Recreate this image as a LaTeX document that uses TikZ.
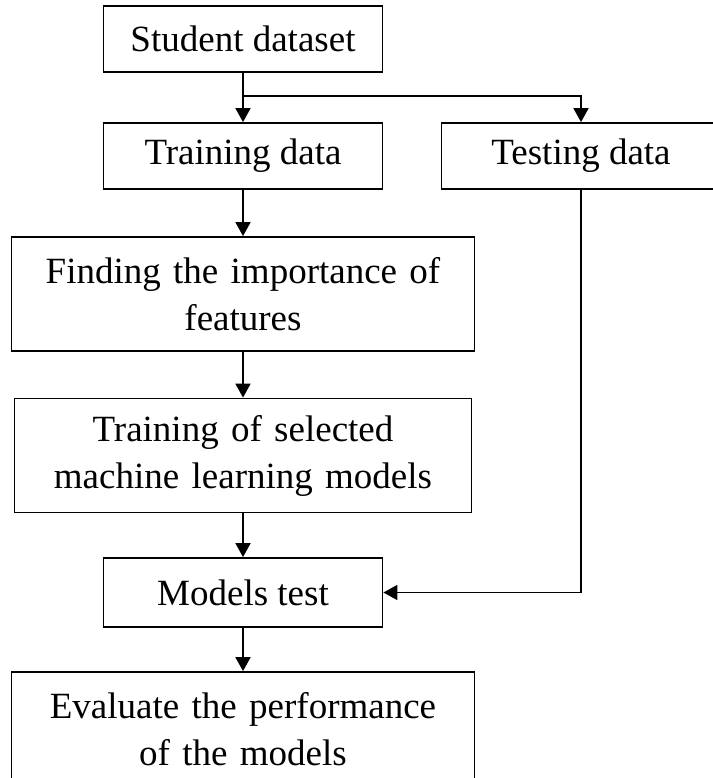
\documentclass[tikz,border=0pt]{standalone}
\usepackage{fontspec}
\setmainfont{Liberation Serif}
\usetikzlibrary{arrows.meta}
\begin{document}
\begin{tikzpicture}[x=1pt,y=-1pt,
  box/.style={draw,line width=1.8pt,inner sep=0pt,align=center,
    font=\fontsize{37}{47}\selectfont},
  smallbox/.style={box,minimum width=279pt,minimum height=66pt},
  bigbox/.style={box,minimum width=463pt,minimum height=114pt,text width=450pt},
  arr/.style={line width=1.8pt,-{Triangle[length=14pt,width=15pt]}}]
\useasboundingbox (0,0) rectangle (712,778);
\node[smallbox] (student) at (243,39) {Student dataset};
\node[smallbox] (training) at (243,156) {Training data};
\node[smallbox] (testing) at (581,156) {Testing data};
\node[bigbox] (finding) at (243,294) {Finding the importance of\\features};
\node[bigbox,minimum width=457pt] (trainsel) at (243,455.5) {Training of selected\\machine learning models};
\node[smallbox,minimum height=69pt] (models) at (243,592.5) {Models test};
\node[bigbox] (evaluate) at (243,729) {Evaluate the performance\\of the models};
\coordinate (split) at (243,96);
\draw[arr] (student) -- (training);
\draw[arr] (split) -| (testing);
\draw[arr] (training) -- (finding);
\draw[arr] (finding) -- (trainsel);
\draw[arr] (trainsel) -- (models);
\draw[arr] (testing) |- (models);
\draw[arr] (models) -- (evaluate);
\end{tikzpicture}
\end{document}
